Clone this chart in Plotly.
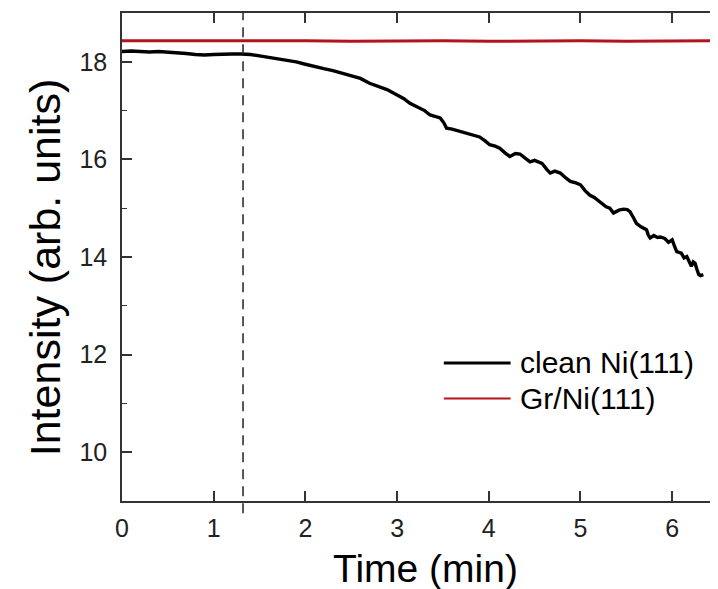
import plotly.graph_objects as go

# clean Ni(111) intensity vs time
time_clean = [0.0, 0.1, 0.2, 0.3, 0.4, 0.5, 0.6, 0.7, 0.8, 0.9, 1.0, 1.1, 1.2, 1.3,
              1.4, 1.5, 1.6, 1.7, 1.8, 1.9, 2.0, 2.1, 2.2, 2.3, 2.4, 2.5, 2.6, 2.7,
              2.8, 2.89, 3.0, 3.07, 3.14, 3.2, 3.25, 3.3, 3.36, 3.42, 3.47, 3.51,
              3.54, 3.6, 3.69, 3.75, 3.8, 3.85, 3.9, 3.96, 4.01, 4.07, 4.12, 4.18,
              4.23, 4.29, 4.34, 4.4, 4.45, 4.5, 4.53, 4.58, 4.63, 4.67, 4.72, 4.78,
              4.84, 4.89, 4.95, 5.0, 5.05, 5.1, 5.15, 5.21, 5.28, 5.32, 5.36, 5.42,
              5.47, 5.51, 5.54, 5.58, 5.61, 5.66, 5.72, 5.74, 5.76, 5.8, 5.84, 5.87,
              5.92, 5.96, 6.0, 6.03, 6.05, 6.1, 6.13, 6.16, 6.19, 6.21, 6.23, 6.25,
              6.27, 6.29, 6.31, 6.34]
int_clean = [18.21, 18.22, 18.21, 18.2, 18.21, 18.2, 18.19, 18.17, 18.15, 18.14,
             18.15, 18.16, 18.16, 18.16, 18.15, 18.12, 18.09, 18.06, 18.03, 18.0,
             17.95, 17.9, 17.86, 17.82, 17.77, 17.72, 17.66, 17.56, 17.49, 17.43,
             17.32, 17.25, 17.15, 17.1, 17.05, 17.0, 16.91, 16.88, 16.85, 16.75,
             16.64, 16.62, 16.57, 16.53, 16.5, 16.49, 16.46, 16.38, 16.3, 16.27,
             16.23, 16.13, 16.06, 16.12, 16.11, 16.02, 15.95, 15.98, 15.96, 15.92,
             15.8, 15.72, 15.76, 15.72, 15.62, 15.55, 15.52, 15.48, 15.36, 15.27,
             15.22, 15.14, 15.03, 15.0, 14.9, 14.96, 14.98, 14.97, 14.93, 14.8,
             14.69, 14.62, 14.56, 14.45, 14.39, 14.44, 14.4, 14.41, 14.38, 14.3,
             14.35, 14.2, 14.11, 14.08, 13.98, 14.01, 13.9, 13.81, 13.9, 13.87,
             13.75, 13.64, 13.62, 13.64]

# Gr/Ni(111) stays flat
time_gr = [0.0, 0.5, 1.0, 1.5, 2.0, 2.5, 3.0, 3.5, 4.0, 4.5, 5.0, 5.5, 6.0, 6.5]
int_gr = [18.43, 18.43, 18.44, 18.43, 18.43, 18.42, 18.43, 18.43, 18.42, 18.43,
          18.43, 18.42, 18.43, 18.43]

t_mark = 1.32
x_ticks = [0, 1, 2, 3, 4, 5, 6]
y_ticks = [10, 12, 14, 16, 18]

FONT = "Liberation Sans, Arial, sans-serif"
RED = "#b3141c"

fig = go.Figure()
fig.add_trace(go.Scatter(x=time_clean, y=int_clean, mode="lines", name="clean Ni(111)",
                         line=dict(color="black", width=3.4), showlegend=False))
fig.add_trace(go.Scatter(x=time_gr, y=int_gr, mode="lines", name="Gr/Ni(111)",
                         line=dict(color=RED, width=3), showlegend=False))

# dashed marker line
fig.add_shape(type="line", xref="x", yref="paper", x0=t_mark, x1=t_mark, y0=-0.025, y1=1,
              line=dict(color="#222", width=1.5, dash="10px,7px"))

# hand-made legend (longer key lines than plotly's native legend)
legend_items = [("clean Ni(111)", "black", 3, 0.283), ("Gr/Ni(111)", RED, 2.2, 0.21)]
for name, col, w, yp in legend_items:
    fig.add_shape(type="line", xref="paper", yref="paper", x0=0.54, x1=0.652, y0=yp, y1=yp,
                  line=dict(color=col, width=w))
    fig.add_annotation(text=name, xref="paper", yref="paper", x=0.665, y=yp,
                       xanchor="left", yanchor="middle", showarrow=False,
                       font=dict(family=FONT, size=30, color="black"))

# axis titles placed as annotations for exact positioning
fig.add_annotation(text="Intensity (arb. units)", xref="paper", yref="paper",
                   x=-0.13, y=0.478, textangle=-90, showarrow=False,
                   xanchor="center", yanchor="middle", font=dict(family=FONT, size=43))
fig.add_annotation(text="Time (min)", xref="paper", yref="paper",
                   x=0.51, y=-0.138, showarrow=False,
                   xanchor="center", yanchor="middle", font=dict(family=FONT, size=39))

# page body keeps an 8px margin, so the figure is 8px smaller than the window
fig.update_layout(
    width=710, height=581,
    margin=dict(l=114, r=0, t=5, b=88),
    paper_bgcolor="white", plot_bgcolor="white",
    font=dict(family=FONT, color="black"),
)
fig.update_xaxes(range=[0, 6.5], tickvals=x_ticks, ticks="inside", ticklen=10, tickwidth=1.5,
                 tickcolor="#333", showline=True, linecolor="#333", linewidth=1.5,
                 mirror="ticks", showgrid=False, zeroline=False, automargin=False,
                 tickfont=dict(size=25, color="#222"), ticklabelstandoff=4)
fig.update_yaxes(range=[9, 19], tickvals=y_ticks, ticks="inside", ticklen=10, tickwidth=1.5,
                 tickcolor="#333", showline=True, linecolor="#333", linewidth=1.5,
                 showgrid=False, zeroline=False, automargin=False,
                 minor=dict(tickvals=[11, 13, 15, 17], ticks="inside", ticklen=5,
                            tickcolor="#333", tickwidth=1.2),
                 tickfont=dict(size=25, color="#222"), ticklabelstandoff=8)

fig.write_html("out.html")
